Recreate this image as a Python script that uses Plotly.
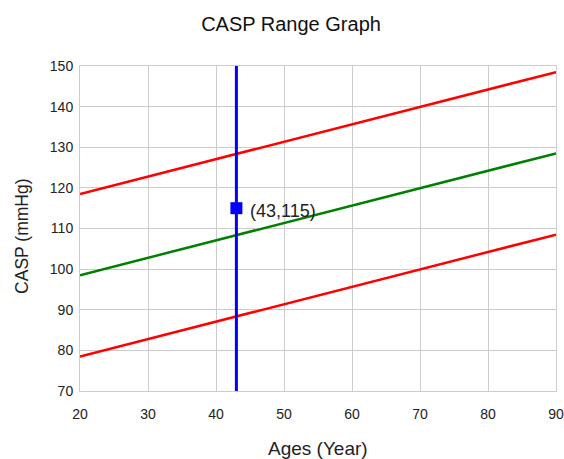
import plotly.graph_objects as go

# range lines (age -> CASP)
ages = [20, 90]
upper_limit = [118.5, 148.5]
normal_line = [98.5, 128.5]
lower_limit = [78.5, 108.5]

# patient reading
patient_age = 43
patient_casp = 115
y_span = [70, 150]

x_ticks = [20, 30, 40, 50, 60, 70, 80, 90]
y_ticks = [70, 80, 90, 100, 110, 120, 130, 140, 150]

fig = go.Figure()


def add_line(fig, xList, yList, color, width):
    fig.add_trace(go.Scatter(x=xList, y=yList, mode="lines",
                             line=dict(color=color, width=width),
                             hoverinfo="skip", showlegend=False))


def add_text(fig, text, xPosition, yPosition, textSize, **kw):
    fig.add_annotation(dict(font=dict(size=textSize, color="#222222"),
                            x=xPosition, y=yPosition, showarrow=False,
                            text=text, **kw))


add_line(fig, ages, upper_limit, "#ff0000", 2.5)
add_line(fig, ages, normal_line, "#008000", 2.5)
add_line(fig, ages, lower_limit, "#ff0000", 2.5)
add_line(fig, [patient_age, patient_age], y_span, "#0000ff", 3)

fig.add_trace(go.Scatter(x=[patient_age], y=[patient_casp], mode="markers",
                         marker=dict(symbol="square", size=12, color="#0000ff"),
                         showlegend=False))
add_text(fig, "(%d,%d)" % (patient_age, patient_casp), patient_age, patient_casp, 18,
         xanchor="left", xshift=12, yshift=-3, xref="x", yref="y")

# axis titles placed as annotations
add_text(fig, "Ages (Year)", 0.5, -0.178, 19, xref="paper", yref="paper",
         xanchor="center", yanchor="middle")
add_text(fig, "CASP (mmHg)", -0.122, 0.477, 17.5, xref="paper", yref="paper",
         xanchor="center", yanchor="middle", textangle=-90)

axis_style = dict(showgrid=True, gridcolor="#cccccc", gridwidth=1,
                  showline=True, linecolor="#cccccc", linewidth=1, mirror=True,
                  zeroline=False, ticks="", tickfont=dict(size=14, color="#222222"),
                  ticklabeloverflow="allow", automargin=False)

fig.update_xaxes(range=[20, 90], tickvals=x_ticks, ticklabelstandoff=10, **axis_style)
fig.update_yaxes(range=[70, 150], tickvals=y_ticks, ticklabelstandoff=3, **axis_style)

fig.update_layout(
    width=564, height=459,
    margin=dict(l=80, r=8, t=66, b=68, autoexpand=False),
    paper_bgcolor="white", plot_bgcolor="white",
    font=dict(family="Liberation Sans, Arial, sans-serif"),
    title=dict(text="CASP Range Graph", x=0.516, xanchor="center",
               y=1 - 24 / 459, yanchor="middle",
               font=dict(size=20, color="#111111")),
)

fig.write_html("out.html", config={"displayModeBar": False},
               post_script="document.body.style.margin='0';")
